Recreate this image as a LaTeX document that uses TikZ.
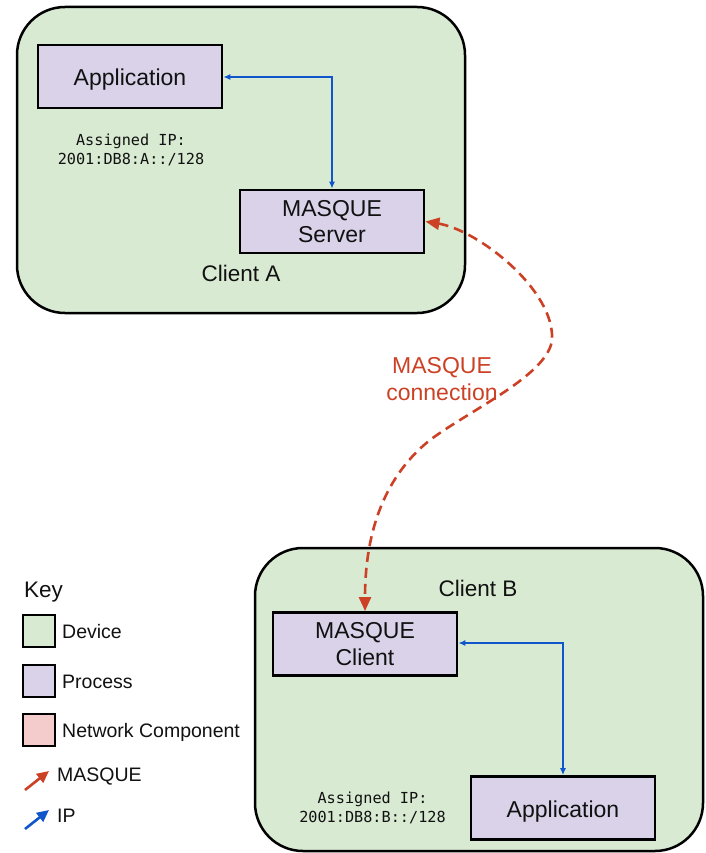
\documentclass[tikz,border=0pt]{standalone}
\usepackage{fontspec}
\setmainfont{Liberation Sans}
\newfontfamily\monof{DejaVu Sans Mono}
\usetikzlibrary{arrows.meta}
\definecolor{devgreen}{HTML}{D9EAD3}
\definecolor{procpurple}{HTML}{D9D2E9}
\definecolor{netpink}{HTML}{F4CCCC}
\definecolor{masqred}{HTML}{CC4125}
\definecolor{ipblue}{HTML}{1155CC}
\definecolor{txt}{HTML}{111111}
\tikzset{
  device/.style={draw=black, fill=devgreen, line width=2.5pt, rounded corners=48pt},
  process/.style={draw=black, fill=procpurple, line width=2.8pt, minimum width=184pt, minimum height=63pt, inner sep=0pt, align=center, font=\fontsize{23}{26.5}\selectfont, text=txt},
  devlabel/.style={font=\fontsize{22.5}{26}\selectfont, text=txt, inner sep=0pt},
  iplabel/.style={font=\monof\fontsize{15.2}{19.5}\selectfont, text=txt, align=center, inner sep=0pt},
  iparrow/.style={draw=ipblue, line width=1.3pt, {Latex[length=7pt,width=6pt]}-{Latex[length=7pt,width=6pt]}},
  masqarrow/.style={draw=masqred, line width=2.6pt, dash pattern=on 10pt off 6pt, {Triangle[length=14pt,width=12pt]}-{Triangle[length=14pt,width=12pt]}},
  keybox/.style={draw=black, line width=2.4pt, minimum width=32pt, minimum height=32pt, inner sep=0pt},
  keytext/.style={font=\fontsize{19.5}{23}\selectfont, text=txt, anchor=west, inner sep=0pt},
}
\begin{document}
\begin{tikzpicture}[x=1pt,y=-1pt]
\useasboundingbox (0,0) rectangle (705,853);
% devices
\draw[device] (17,7) rectangle (465,313);
\draw[device] (255,548) rectangle (703,851);
% processes
\node[process] (appA) at (130,76.5) {\raisebox{-9.3pt}[0pt][0pt]{Application}};
\node[process] (server) at (332,221.5) {MASQUE\\Server};
\node[process] (client) at (365,644) {MASQUE\\Client};
\node[process] (appB) at (563,808) {\raisebox{-9.3pt}[0pt][0pt]{Application}};
% labels
\node[devlabel] (lblA) at (241,273) {Client A};
\node[devlabel] (lblB) at (478,588) {Client B};
\node[iplabel] (ipA) at (131,150) {Assigned IP:\\2001:DB8:A::/128};
\node[iplabel] (ipB) at (372.5,808) {Assigned IP:\\2001:DB8:B::/128};
% IP connectors
\draw[iparrow] (appA.east |- 0,77) -| (server.north);
\draw[iparrow] (client.east |- 0,643) -| (appB.north);
% MASQUE connection
\coordinate (m1) at (552,340);
\coordinate (m2) at (430,440);
\draw[masqarrow] (server.east) .. controls (478,230) and (555,290) .. (m1)
  .. controls (548,375) and (470,410) .. (m2)
  .. controls (380,480) and (365,540) .. (client.north);
\node[font=\fontsize{23}{27}\selectfont, text=masqred, align=center, inner sep=0pt] (mlbl) at (442,379) {MASQUE\\connection};
% key
\node[font=\fontsize{22.5}{26}\selectfont, text=txt, anchor=west, inner sep=0pt] (key) at (24,592) {Key};
\node[keybox, fill=devgreen] (kdev) at (39,631) {};
\node[keybox, fill=procpurple] (kproc) at (39,681) {};
\node[keybox, fill=netpink] (knet) at (39,730) {};
\node[keytext] (tdev) at (62,632) {Device};
\node[keytext] (tproc) at (62,682) {Process};
\node[keytext] (tnet) at (62,732) {Network Component};
\coordinate (kr1) at (25,790);
\coordinate (kr2) at (49,771);
\coordinate (kb1) at (25,829);
\coordinate (kb2) at (49,810);
\draw[draw=masqred, line width=2.6pt, -{Triangle[length=12pt,width=11pt]}] (kr1) -- (kr2);
\draw[draw=ipblue, line width=2.6pt, -{Triangle[length=12pt,width=11pt]}] (kb1) -- (kb2);
\node[keytext] (tmasq) at (57,777) {MASQUE};
\node[keytext] (tip) at (57,816) {IP};
\end{tikzpicture}
\end{document}
